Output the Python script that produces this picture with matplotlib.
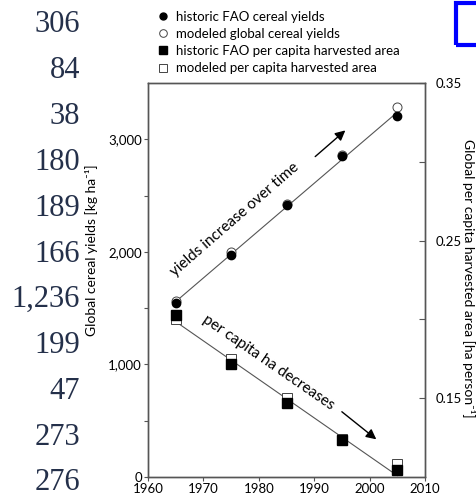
import numpy as np
import matplotlib
matplotlib.use('Agg')
import matplotlib.pyplot as plt
from matplotlib.ticker import FuncFormatter, MultipleLocator, FixedLocator
from matplotlib.lines import Line2D
from matplotlib.patches import Rectangle

FIGSIZE = (4.77, 4.99)
DPI = 100
AX_FONTSIZE = 9.5
LEG_FONTSIZE = 9.5

# data
years = [1965, 1975, 1985, 1995, 2005]
yield_hist = [1545, 1970, 2420, 2855, 3205]
yield_model = [1565, 2000, 2425, 2860, 3290]
area_hist = [0.2025, 0.1715, 0.1468, 0.1234, 0.1044]
area_model = [0.2000, 0.1747, 0.1500, 0.1240, 0.1082]

# column of numbers left of the chart (scanned page)
side_numbers = ['306', '84', '38', '180', '189', '166', '1,236', '199', '47', '273', '276']

plt.rcParams['font.family'] = ['Lato', 'DejaVu Sans']

fig = plt.figure(figsize=FIGSIZE, dpi=DPI)
ax = fig.add_axes([0.3103, 0.0441, 0.5807, 0.7896])
ax2 = ax.twinx()

x = np.array(years, dtype=float)

# trend lines (linear fit through historic values)
for ys, axis in [(yield_hist, ax), (area_hist, ax2)]:
    p = np.polyfit(x, ys, 1)
    axis.plot(x[[0, -1]], np.polyval(p, x[[0, -1]]), color='#555555', lw=0.8, zorder=1)

ax.plot(years, yield_model, 'o', ms=6.5, mfc='white', mec='#444444', mew=0.7, zorder=3)
ax.plot(years, yield_hist, 'o', ms=6, mfc='black', mec='black', zorder=4)
ax2.plot(years, area_model, 's', ms=6.5, mfc='white', mec='#444444', mew=0.7, zorder=3)
ax2.plot(years, area_hist, 's', ms=6.5, mfc='black', mec='black', zorder=4)

# axes
ax.set_xlim(1960, 2010)
ax.set_ylim(0, 3500)
ax2.set_ylim(0.10, 0.35)
ax.xaxis.set_major_locator(MultipleLocator(10))
ax.yaxis.set_major_locator(FixedLocator([0, 1000, 2000, 3000]))
ax.yaxis.set_minor_locator(FixedLocator([500, 1500, 2500]))
ax.yaxis.set_major_formatter(FuncFormatter(lambda v, pos: f'{v:,.0f}'))
ax2.yaxis.set_major_locator(FixedLocator([0.15, 0.25, 0.35]))
ax2.yaxis.set_minor_locator(FixedLocator([0.20, 0.30]))
ax2.yaxis.set_major_formatter(FuncFormatter(lambda v, pos: f'{v:.2f}'))

for a in (ax, ax2):
    for s in a.spines.values():
        s.set_color('#555555')
        s.set_linewidth(1.0)
ax.tick_params(axis='both', which='both', direction='out', length=3, width=0.8,
               color='#555555', labelsize=AX_FONTSIZE, pad=1.5)
ax2.tick_params(axis='y', which='both', direction='in', length=4, width=0.8,
                color='#555555', labelsize=AX_FONTSIZE, pad=8)

ax.set_ylabel('Global cereal yields [kg ha⁻¹]', fontsize=10)
ax.yaxis.set_label_coords(-0.18, 0.576)
ax2.set_ylabel('Global per capita harvested area [ha person⁻¹]', fontsize=10,
               rotation=270, va='center')
ax2.yaxis.set_label_coords(1.157, 0.505)

# annotations
ax.text(1975.7, 2290, 'yields increase over time', rotation=41, fontsize=11,
        ha='center', va='center', rotation_mode='anchor')
ax.annotate('', xy=(1996.0, 3095), xytext=(1989.8, 2830),
            arrowprops=dict(arrowstyle='-|>', color='black', lw=1.0, mutation_scale=15))
ax2.text(1981.8, 0.1728, 'per capita ha decreases', rotation=-34.5, fontsize=11,
         ha='center', va='center', rotation_mode='anchor')
ax2.annotate('', xy=(2001.6, 0.1228), xytext=(1994.6, 0.1425),
             arrowprops=dict(arrowstyle='-|>', color='black', lw=1.0, mutation_scale=15))

# legend
handles = [
    Line2D([], [], ls='', marker='o', ms=5, mfc='black', mec='black'),
    Line2D([], [], ls='', marker='o', ms=5.5, mfc='white', mec='#444444', mew=0.7),
    Line2D([], [], ls='', marker='s', ms=5.5, mfc='black', mec='black'),
    Line2D([], [], ls='', marker='s', ms=5.5, mfc='white', mec='#444444', mew=0.7),
]
labels = ['historic FAO cereal yields', 'modeled global cereal yields',
          'historic FAO per capita harvested area', 'modeled per capita harvested area']
fig.legend(handles, labels, loc='upper left', bbox_to_anchor=(0.308, 1.0),
           frameon=False, fontsize=LEG_FONTSIZE, handlelength=0.8, handletextpad=0.6,
           labelspacing=0.4, borderpad=0.3)

# scanned-page leftovers: number column and blue frame
for i, t in enumerate(side_numbers):
    fig.text(80 / 477, 1 - (25 + i * 45.8) / 499, t, ha='right', va='center',
             family='Liberation Serif', fontsize=22, color='#24304a')
fig.patches.append(Rectangle((456 / 477, 1 - 45 / 499), 0.2, 42 / 499,
                             transform=fig.transFigure, fill=False,
                             edgecolor='#0000ff', lw=3))

fig.savefig('out.png', dpi=DPI)
